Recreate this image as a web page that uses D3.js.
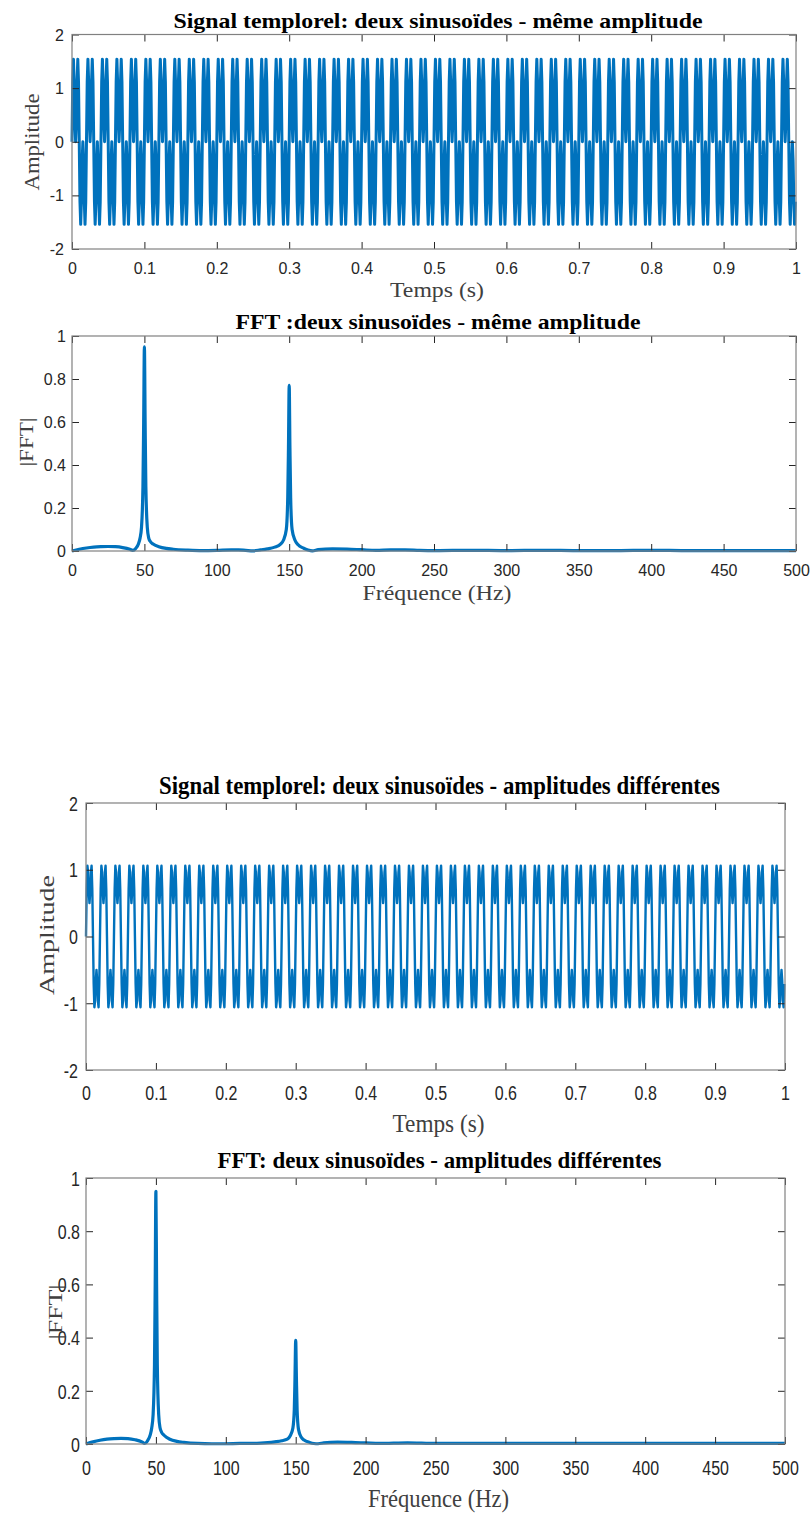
<!DOCTYPE html>
<html>
<head>
<meta charset="utf-8">
<script src="https://cdn.jsdelivr.net/npm/d3@7"></script>
<style>
  body { margin: 0; background: #fff; }
  svg { display: block; }
</style>
</head>
<body>
<div id="chart"></div>
<script>
// one period (20 samples at fs = 1000 Hz) of each time signal
var fs = 1000;
var nSamples = 1000;
var periodSame = [0, 1.12, 1.54, 1.12, 0.36, 0, 0.36, 1.12, 1.54, 1.12,
                  0, -1.12, -1.54, -1.12, -0.36, 0, -0.36, -1.12, -1.54, -1.12];
var periodDiff = [0, 0.71, 1.06, 0.96, 0.66, 0.5, 0.66, 0.96, 1.06, 0.71,
                  0, -0.71, -1.06, -0.96, -0.66, -0.5, -0.66, -0.96, -1.06, -0.71];

// spectrum magnitude
var freqs = [0, 5, 10, 15, 20, 25, 30, 35, 40, 42, 44, 46, 47, 48, 49, 49.5, 50, 50.5, 51, 52, 53, 54, 56,
             60, 65, 70, 80, 90, 100, 110, 115, 120, 125, 130, 135, 140, 144, 146, 148, 149, 149.5, 150,
             150.5, 151, 152, 154, 156, 160, 163, 166, 170, 180, 190, 200, 210, 220, 230, 240, 250,
             275, 300, 325, 350, 375, 400, 425, 450, 475, 500];
var fftSame = [0, 0.008, 0.014, 0.018, 0.02, 0.021, 0.02, 0.016, 0.008, 0.003, 0.012, 0.035, 0.06, 0.11, 0.3, 0.6, 0.95,
               0.6, 0.3, 0.11, 0.06, 0.045, 0.032, 0.02, 0.012, 0.008, 0.004, 0.002, 0.003, 0.005, 0.005, 0.003, 0.001,
               0.005, 0.01, 0.018, 0.032, 0.05, 0.1, 0.25, 0.48, 0.77, 0.48, 0.25, 0.1, 0.05, 0.03, 0.013, 0.005, 0.001,
               0.006, 0.01, 0.009, 0.006, 0.003, 0.005, 0.005, 0.003, 0.002, 0.003, 0.002, 0.003, 0.002, 0.002, 0.003,
               0.002, 0.002, 0.002, 0.002];
var fftDiff = [0, 0.008, 0.014, 0.018, 0.02, 0.021, 0.02, 0.016, 0.008, 0.002, 0.012, 0.035, 0.06, 0.11, 0.3, 0.6, 0.95,
               0.6, 0.3, 0.11, 0.06, 0.045, 0.032, 0.018, 0.01, 0.006, 0.002, 0.001, 0.001, 0.002, 0.002, 0.002, 0.003,
               0.005, 0.008, 0.012, 0.018, 0.03, 0.06, 0.13, 0.25, 0.39, 0.25, 0.13, 0.055, 0.025, 0.015, 0.006, 0.002,
               0.001, 0.004, 0.007, 0.006, 0.004, 0.002, 0.003, 0.004, 0.003, 0.002, 0.002, 0.002, 0.002, 0.002, 0.002,
               0.002, 0.002, 0.002, 0.002, 0.002];

var timeTicks = [0, 0.1, 0.2, 0.3, 0.4, 0.5, 0.6, 0.7, 0.8, 0.9, 1];
var ampTicks = [-2, -1, 0, 1, 2];
var freqTicks = [0, 50, 100, 150, 200, 250, 300, 350, 400, 450, 500];
var magTicks = [0, 0.2, 0.4, 0.6, 0.8, 1];

var titles = ["Signal templorel: deux sinusoïdes - même amplitude",
              "FFT :deux sinusoïdes - même amplitude",
              "Signal templorel: deux sinusoïdes - amplitudes différentes",
              "FFT: deux sinusoïdes - amplitudes différentes"];

var blue = "#0072BD";
var serif = "'Liberation Serif', 'Times New Roman', serif";
var sans = "'Liberation Sans', Arial, sans-serif";

var svg = d3.select("#chart").append("svg")
    .attr("width", 811)
    .attr("height", 1513);

function tile(period) {
    return d3.range(nSamples).map(function(k) {
        return { x: k / fs, y: period[k % period.length] };
    });
}

function pairs(xs, ys) {
    return xs.map(function(f, i) { return { x: f, y: ys[i] }; });
}

function addText(g, txt, o) {
    var t = g.append("text")
        .text(txt)
        .attr("font-family", o.font)
        .attr("font-size", o.size)
        .attr("font-weight", o.weight || "normal")
        .attr("fill", o.fill || "#000")
        .attr("text-anchor", "middle")
        .attr("dominant-baseline", "central")
        .attr("transform", "translate(" + o.x + "," + o.y + ") rotate(" + (o.rot || 0) + ")");
    if (o.len) t.attr("textLength", o.len).attr("lengthAdjust", "spacingAndGlyphs");
    return t;
}

function panel(p) {
    var x = d3.scaleLinear().domain(p.xdom).range([p.x0, p.x1]);
    var y = d3.scaleLinear().domain(p.ydom).range([p.y1, p.y0]);
    var g = svg.append("g");
    var fmt = function(d) { return String(d); };

    // signal first, box and ticks drawn over it
    g.append("path")
        .datum(p.data)
        .attr("fill", "none")
        .attr("stroke", blue)
        .attr("stroke-width", p.lw)
        .attr("stroke-linejoin", "round")
        .attr("d", d3.line()
            .x(function(d) { return x(d.x); })
            .y(function(d) { return y(d.y); })
            .curve(p.curve));

    // ticks on all four sides, pointing inward
    var axes = [
        { a: d3.axisBottom(x).tickValues(p.xticks), tr: "translate(0," + p.y1 + ")", lab: true, side: "b" },
        { a: d3.axisTop(x).tickValues(p.xticks), tr: "translate(0," + p.y0 + ")", lab: false },
        { a: d3.axisLeft(y).tickValues(p.yticks), tr: "translate(" + p.x0 + ",0)", lab: true, side: "l" },
        { a: d3.axisRight(y).tickValues(p.yticks), tr: "translate(" + p.x1 + ",0)", lab: false }
    ];
    axes.forEach(function(ax) {
        var ag = g.append("g")
            .attr("transform", ax.tr)
            .call(ax.a.tickSize(-7).tickFormat(ax.lab ? fmt : "").tickSizeOuter(0));
        ag.select(".domain").remove();
        ag.selectAll(".tick line").attr("stroke", "#262626").attr("stroke-width", 1);
        if (!ax.lab) { ag.selectAll("text").remove(); return; }
        ag.selectAll("text")
            .attr("x", null).attr("y", null).attr("dy", null)
            .attr("font-family", sans)
            .attr("font-size", 16)
            .attr("fill", "#262626")
            .attr("dominant-baseline", "central")
            .attr("text-anchor", ax.side === "b" ? "middle" : "end")
            .attr("transform", ax.side === "b"
                ? "translate(0," + (p.xtickY - p.y1) + ") scale(1," + p.sy + ")"
                : "translate(" + (p.ytickX - p.x0) + ",0) scale(1," + p.sy + ")");
    });

    g.append("rect")
        .attr("x", p.x0).attr("y", p.y0)
        .attr("width", p.x1 - p.x0).attr("height", p.y1 - p.y0)
        .attr("fill", "none")
        .attr("stroke", "#808080")
        .attr("stroke-width", 1.2);

    addText(g, p.title, { x: (p.x0 + p.x1) / 2 + 4, y: p.titleY, font: serif, size: p.titleSize,
        weight: "bold", len: p.titleLen });
    addText(g, p.xlabel, { x: (p.x0 + p.x1) / 2 + 3, y: p.xlabelY, font: serif, size: p.labSize,
        fill: "#404040", len: p.xlabelLen });
    addText(g, p.ylabel, { x: p.ylabelX, y: p.ylabelY, font: serif, size: p.ylabSize,
        fill: "#404040", rot: -90, len: p.ylabelLen });
}

panel({
    x0: 72, x1: 796, y0: 34.5, y1: 249, xdom: [0, 1], ydom: [-2, 2],
    xticks: timeTicks, yticks: ampTicks, data: tile(periodSame), lw: 3, curve: d3.curveLinear,
    sy: 1, xtickY: 268, ytickX: 64,
    title: titles[0], titleY: 20, titleSize: 22, titleLen: 529,
    xlabel: "Temps (s)", xlabelY: 290, labSize: 20, xlabelLen: 94,
    ylabel: "Amplitude", ylabelX: 32, ylabelY: 142, ylabSize: 21, ylabelLen: 97
});

panel({
    x0: 72, x1: 796, y0: 336, y1: 551, xdom: [0, 500], ydom: [0, 1],
    xticks: freqTicks, yticks: magTicks, data: pairs(freqs, fftSame), lw: 3.2, curve: d3.curveMonotoneX,
    sy: 1, xtickY: 570, ytickX: 66,
    title: titles[1], titleY: 322, titleSize: 21, titleLen: 405,
    xlabel: "Fréquence (Hz)", xlabelY: 593, labSize: 20, xlabelLen: 149,
    ylabel: "|FFT|", ylabelX: 27, ylabelY: 442, ylabSize: 18, ylabelLen: 49
});

panel({
    x0: 86, x1: 785, y0: 803, y1: 1070, xdom: [0, 1], ydom: [-2, 2],
    xticks: timeTicks, yticks: ampTicks, data: tile(periodDiff), lw: 2.4, curve: d3.curveLinear,
    sy: 1.27, xtickY: 1093, ytickX: 78,
    title: titles[2], titleY: 785, titleSize: 25, titleLen: 561,
    xlabel: "Temps (s)", xlabelY: 1123, labSize: 25, xlabelLen: 92,
    ylabel: "Amplitude", ylabelX: 47, ylabelY: 935, ylabSize: 20, ylabelLen: 120
});

panel({
    x0: 86, x1: 785, y0: 1178, y1: 1444, xdom: [0, 500], ydom: [0, 1],
    xticks: freqTicks, yticks: magTicks, data: pairs(freqs, fftDiff), lw: 3.2, curve: d3.curveMonotoneX,
    sy: 1.27, xtickY: 1468, ytickX: 80,
    title: titles[3], titleY: 1160, titleSize: 23, titleLen: 444,
    xlabel: "Fréquence (Hz)", xlabelY: 1498, labSize: 25, xlabelLen: 141,
    ylabel: "|FFT|", ylabelX: 56, ylabelY: 1312, ylabSize: 18, ylabelLen: 55
});
</script>
</body>
</html>
